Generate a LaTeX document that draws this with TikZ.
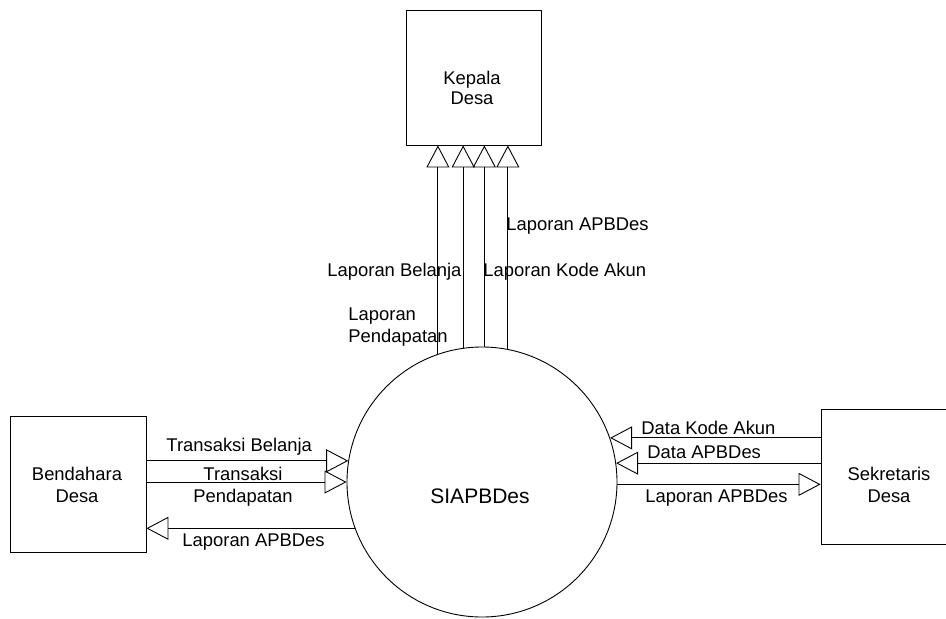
\documentclass[tikz,border=0pt]{standalone}
\usepackage{fontspec}
\setmainfont{Liberation Sans}
\usetikzlibrary{arrows.meta}
\begin{document}
\begin{tikzpicture}[x=1pt,y=-1pt,line width=0.9pt,
  box/.style={draw,minimum width=135pt,minimum height=135pt,inner sep=0pt},
  lbl/.style={font=\fontsize{18.4}{22}\selectfont,inner sep=0pt,anchor=base west},
  ctext/.style={font=\fontsize{18.4}{22}\selectfont,inner sep=0pt,align=center,anchor=base},
  flow/.style={-{Triangle[open,length=22pt,width=23pt]}}]
\useasboundingbox (0,0) rectangle (946,619);
% entities and process
\node[box] (kepala) at (473.5,77.5) {};
\node[box,minimum width=136pt,minimum height=136pt] (bend) at (78,484) {};
\node[box,minimum width=136pt] (sekr) at (889,476.5) {};
\node[draw,circle,minimum size=270pt,inner sep=0pt] (sys) at (482,482) {};
% texts inside shapes (base anchor = last line baseline)
\node[ctext] (tkep) at (472,104) {Kepala\\[-2pt]Desa};
\node[ctext] (tben) at (77,502) {Bendahara\\Desa};
\node[ctext] (tsek) at (889,502.7) {Sekretaris\\Desa};
\node[font=\fontsize{21}{25}\selectfont,inner sep=0pt,anchor=base] (tsys) at (480,503.3) {SIAPBDes};
% flows to Kepala Desa
\draw[flow] (sys.109.02) -- (sys.109.02 |- kepala.south);
\draw[flow] (sys.98.95) -- (sys.98.95 |- kepala.south);
\draw[flow] (sys.89.58) -- (sys.89.58 |- kepala.south);
\draw[flow] (sys.79.76) -- (sys.79.76 |- kepala.south);
% flows with Bendahara Desa
\draw[flow] (bend.east |- sys.171.05) -- (sys.171.05);
\draw[flow] (bend.east |- sys.180.85) -- (sys.180.85);
\draw[flow] (sys.200.37) -- (bend.east |- sys.200.37);
% flows with Sekretaris Desa
\draw[flow] (sekr.west |- sys.19.02) -- (sys.19.02);
\draw[flow] (sekr.west |- sys.8.95) -- (sys.8.95);
\draw[flow] (sys.359.15) -- (sekr.west |- sys.359.15);
% labels
\node[lbl] (l1) at (506,230.7) {Laporan APBDes};
\node[lbl] (l2) at (327,276) {Laporan Belanja};
\node[lbl] (l3) at (483,276) {Laporan Kode Akun};
\node[lbl,align=left] (l4) at (348,342.7) {Laporan\\Pendapatan};
\node[lbl] (l5) at (166,451.7) {Transaksi Belanja};
\node[ctext] (l6) at (243,502.7) {Transaksi\\Pendapatan};
\node[lbl] (l7) at (182,546.7) {Laporan APBDes};
\node[lbl] (l8) at (641,434.3) {Data Kode Akun};
\node[lbl] (l9) at (647,458.3) {Data APBDes};
\node[lbl] (l10) at (645,502.3) {Laporan APBDes};
\end{tikzpicture}
\end{document}
